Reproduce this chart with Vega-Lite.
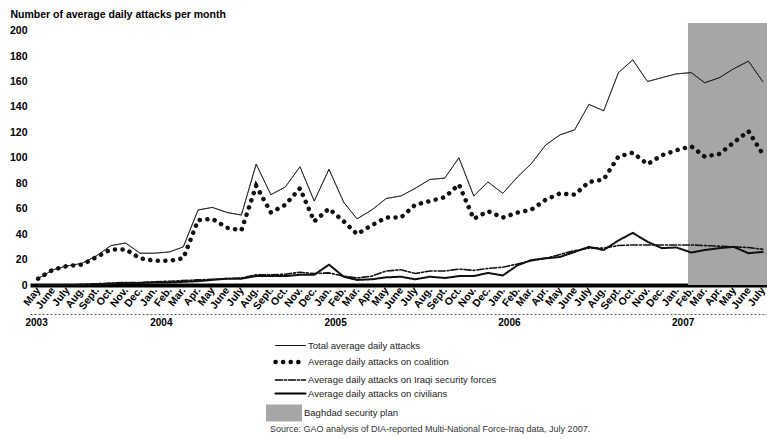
{
  "$schema": "https://vega.github.io/schema/vega-lite/v6.json",
  "width": 737,
  "height": 262,
  "autosize": {"type": "none"},
  "padding": {"left": 30, "top": 23, "right": 0, "bottom": 154},
  "background": "white",
  "config": {"view": {"stroke": null}, "font": "Liberation Sans"},
  "title": {"text": "Source: GAO analysis of DIA-reported Multi-National Force-Iraq data, July 2007.", "orient": "bottom", "anchor": "start", "frame": "group", "dx": 240, "offset": 3, "fontSize": 9, "fontWeight": "normal", "color": "#333"},
  "datasets": {
    "attacks": [
      {"month": "2003-05", "total": 5, "coalition": 5, "isf": 0, "civilians": 0},
      {"month": "2003-06", "total": 12, "coalition": 12, "isf": 0, "civilians": 0},
      {"month": "2003-07", "total": 15, "coalition": 15, "isf": 0, "civilians": 0},
      {"month": "2003-08", "total": 17, "coalition": 16, "isf": 0.5, "civilians": 0},
      {"month": "2003-09", "total": 23, "coalition": 22, "isf": 1, "civilians": 0.5},
      {"month": "2003-10", "total": 31, "coalition": 28, "isf": 1.5, "civilians": 1},
      {"month": "2003-11", "total": 33, "coalition": 28, "isf": 2, "civilians": 1.5},
      {"month": "2003-12", "total": 25, "coalition": 21, "isf": 2, "civilians": 1.5},
      {"month": "2004-01", "total": 25, "coalition": 19, "isf": 2.5, "civilians": 2},
      {"month": "2004-02", "total": 26, "coalition": 19, "isf": 3, "civilians": 2},
      {"month": "2004-03", "total": 30, "coalition": 21, "isf": 3.5, "civilians": 2.5},
      {"month": "2004-04", "total": 59, "coalition": 51, "isf": 4, "civilians": 3},
      {"month": "2004-05", "total": 61, "coalition": 52, "isf": 4.5, "civilians": 4},
      {"month": "2004-06", "total": 57, "coalition": 45, "isf": 5, "civilians": 5},
      {"month": "2004-07", "total": 55, "coalition": 43, "isf": 5.5, "civilians": 5},
      {"month": "2004-08", "total": 95, "coalition": 78, "isf": 8, "civilians": 7},
      {"month": "2004-09", "total": 71, "coalition": 57, "isf": 8, "civilians": 7},
      {"month": "2004-10", "total": 77, "coalition": 63, "isf": 8.5, "civilians": 7},
      {"month": "2004-11", "total": 93, "coalition": 76, "isf": 10, "civilians": 8},
      {"month": "2004-12", "total": 66, "coalition": 50, "isf": 9, "civilians": 8},
      {"month": "2005-01", "total": 91, "coalition": 60, "isf": 9.5, "civilians": 16},
      {"month": "2005-02", "total": 65, "coalition": 50, "isf": 7, "civilians": 6.5},
      {"month": "2005-03", "total": 52, "coalition": 40, "isf": 5.5, "civilians": 4},
      {"month": "2005-04", "total": 59, "coalition": 47, "isf": 7, "civilians": 4.5},
      {"month": "2005-05", "total": 68, "coalition": 53, "isf": 11, "civilians": 6},
      {"month": "2005-06", "total": 70, "coalition": 53, "isf": 12, "civilians": 6.5},
      {"month": "2005-07", "total": 76, "coalition": 63, "isf": 9, "civilians": 4.5},
      {"month": "2005-08", "total": 83, "coalition": 66, "isf": 11, "civilians": 6.5},
      {"month": "2005-09", "total": 84, "coalition": 69, "isf": 11, "civilians": 5.5},
      {"month": "2005-10", "total": 100, "coalition": 79, "isf": 12.5, "civilians": 7},
      {"month": "2005-11", "total": 70, "coalition": 52, "isf": 11.5, "civilians": 7},
      {"month": "2005-12", "total": 81, "coalition": 58, "isf": 13, "civilians": 9.5},
      {"month": "2006-01", "total": 72, "coalition": 53, "isf": 14, "civilians": 7.5},
      {"month": "2006-02", "total": 85, "coalition": 57, "isf": 16.5, "civilians": 15.5},
      {"month": "2006-03", "total": 95, "coalition": 59, "isf": 19, "civilians": 19.5},
      {"month": "2006-04", "total": 110, "coalition": 67, "isf": 21, "civilians": 21},
      {"month": "2006-05", "total": 118, "coalition": 72, "isf": 24, "civilians": 22},
      {"month": "2006-06", "total": 122, "coalition": 71, "isf": 27, "civilians": 26},
      {"month": "2006-07", "total": 142, "coalition": 81, "isf": 29, "civilians": 30},
      {"month": "2006-08", "total": 137, "coalition": 83, "isf": 29, "civilians": 27.5},
      {"month": "2006-09", "total": 167, "coalition": 101, "isf": 31, "civilians": 35},
      {"month": "2006-10", "total": 177, "coalition": 104, "isf": 31.5, "civilians": 41},
      {"month": "2006-11", "total": 160, "coalition": 95, "isf": 31.5, "civilians": 34},
      {"month": "2006-12", "total": 163, "coalition": 102, "isf": 31.5, "civilians": 29},
      {"month": "2007-01", "total": 166, "coalition": 106, "isf": 31.5, "civilians": 29.5},
      {"month": "2007-02", "total": 167, "coalition": 109, "isf": 31.5, "civilians": 25.5},
      {"month": "2007-03", "total": 159, "coalition": 101, "isf": 31, "civilians": 27.5},
      {"month": "2007-04", "total": 163, "coalition": 103, "isf": 30.5, "civilians": 29},
      {"month": "2007-05", "total": 170, "coalition": 112, "isf": 30, "civilians": 30},
      {"month": "2007-06", "total": 176, "coalition": 121, "isf": 29.5, "civilians": 25},
      {"month": "2007-07", "total": 160, "coalition": 103, "isf": 28, "civilians": 26}
    ],
    "plan": [
      {"start": "2007-01-25", "end": "2007-07-10", "label": "Baghdad security plan"}
    ]
  },
  "layer": [
    {
      "data": {"name": "plan", "format": {"parse": {"start": "date:'%Y-%m-%d'", "end": "date:'%Y-%m-%d'"}}},
      "mark": {"type": "rect", "strokeWidth": 0},
      "encoding": {
        "x": {
          "field": "start", "type": "temporal",
          "scale": {"domain": [{"year": 2003, "month": 4, "date": 14}, {"year": 2007, "month": 7, "date": 10}]},
          "axis": {
            "orient": "bottom", "offset": 29, "title": null,
            "values": [{"year": 2003, "month": 4, "date": 14}, {"year": 2004, "month": 1, "date": 1}, {"year": 2005, "month": 1, "date": 1}, {"year": 2006, "month": 1, "date": 1}, {"year": 2007, "month": 1, "date": 1}],
            "format": "%Y", "labelAlign": "left", "labelBaseline": "top", "labelOffset": -5, "labelPadding": 3,
            "ticks": false, "grid": false, "domainDash": [2, 2], "domainColor": "#555", "domainWidth": 1,
            "labelFontSize": 10, "labelFontWeight": "bold", "labelColor": "black", "labelFlush": false, "labelOverlap": false
          }
        },
        "x2": {"field": "end"},
        "fill": {
          "field": "label", "type": "nominal",
          "scale": {"range": ["#a6a6a6"]},
          "legend": {
            "title": null, "orient": "none", "legendX": 244, "legendY": 380, "padding": 0,
            "symbolType": "M-1.8,-0.85H1.8V0.85H-1.8Z", "symbolSize": 400, "symbolStrokeWidth": 0,
            "labelOffset": 10, "labelFontSize": 9.5, "labelColor": "#222", "labelFont": "Liberation Sans", "labelLimit": 0
          }
        }
      }
    },
    {
      "data": {"name": "attacks", "format": {"parse": {"month": "date:'%Y-%m'"}}},
      "transform": [{"fold": ["total", "coalition", "isf", "civilians"], "as": ["series", "value"]}],
      "mark": {"type": "line", "strokeCap": "round", "color": "#111"},
      "encoding": {
        "x": {
          "field": "month", "type": "temporal",
          "scale": {"domain": [{"year": 2003, "month": 4, "date": 14}, {"year": 2007, "month": 7, "date": 10}]},
          "axis": {
            "title": null, "orient": "bottom",
            "tickCount": {"interval": "month", "step": 1},
            "labelExpr": "['Jan.','Feb.','Mar.','Apr.','May','June','July','Aug.','Sept.','Oct.','Nov.','Dec.'][month(datum.value)]",
            "labelAngle": -52, "labelAlign": "right", "labelBaseline": "middle", "labelPadding": 3,
            "labelFontSize": 10.5, "labelFontWeight": "bold", "labelColor": "black",
            "ticks": false, "grid": false, "domainWidth": 4, "domainColor": "black",
            "labelOverlap": false, "labelFlush": false
          }
        },
        "y": {
          "field": "value", "type": "quantitative",
          "scale": {"domain": [0, 206], "nice": false},
          "axis": {
            "values": [0, 20, 40, 60, 80, 100, 120, 140, 160, 180, 200],
            "title": "Number of average daily attacks per month",
            "titleAngle": 0, "titleAlign": "left", "titleBaseline": "middle", "titleX": -20, "titleY": -9,
            "titleFontSize": 10.5, "titleFontWeight": "bold", "titleColor": "black",
            "domain": false, "ticks": false, "grid": false,
            "labelFontSize": 10.5, "labelFontWeight": "bold", "labelColor": "black", "labelPadding": 3
          }
        },
        "strokeDash": {
          "field": "series", "type": "nominal",
          "scale": {"domain": ["total", "coalition", "isf", "civilians"], "range": [[1, 0], [0.1, 7.5], [7, 2, 2, 2], [1, 0]]},
          "legend": {
            "title": null, "orient": "none", "legendX": 253, "legendY": 317, "padding": 0,
            "symbolType": "M-3,0H3", "symbolSize": 100, "symbolStrokeColor": "black", "symbolFillColor": "transparent",
            "labelOffset": 10, "rowPadding": 2.5, "labelFontSize": 9.5, "labelColor": "#222", "labelFont": "Liberation Sans", "labelLimit": 0,
            "labelExpr": "datum.label == 'total' ? 'Total average daily attacks' : datum.label == 'coalition' ? 'Average daily attacks on coalition' : datum.label == 'isf' ? 'Average daily attacks on Iraqi security forces' : 'Average daily attacks on civilians'",
            "encode": {"symbols": {"update": {"strokeCap": {"value": "round"}}}}
          }
        },
        "strokeWidth": {
          "field": "series", "type": "nominal",
          "scale": {"type": "ordinal", "domain": ["total", "coalition", "isf", "civilians"], "range": [0.8, 4.5, 1.6, 2]},
          "legend": {
            "title": null, "orient": "none", "legendX": 253, "legendY": 317, "padding": 0,
            "symbolType": "M-3,0H3", "symbolSize": 100, "symbolStrokeColor": "black", "symbolFillColor": "transparent",
            "labelOffset": 10, "rowPadding": 2.5, "labelFontSize": 9.5, "labelColor": "#222", "labelFont": "Liberation Sans", "labelLimit": 0,
            "labelExpr": "datum.label == 'total' ? 'Total average daily attacks' : datum.label == 'coalition' ? 'Average daily attacks on coalition' : datum.label == 'isf' ? 'Average daily attacks on Iraqi security forces' : 'Average daily attacks on civilians'",
            "encode": {"symbols": {"update": {"strokeCap": {"value": "round"}}}}
          }
        }
      }
    }
  ],
  "resolve": {"axis": {"x": "independent"}}
}
